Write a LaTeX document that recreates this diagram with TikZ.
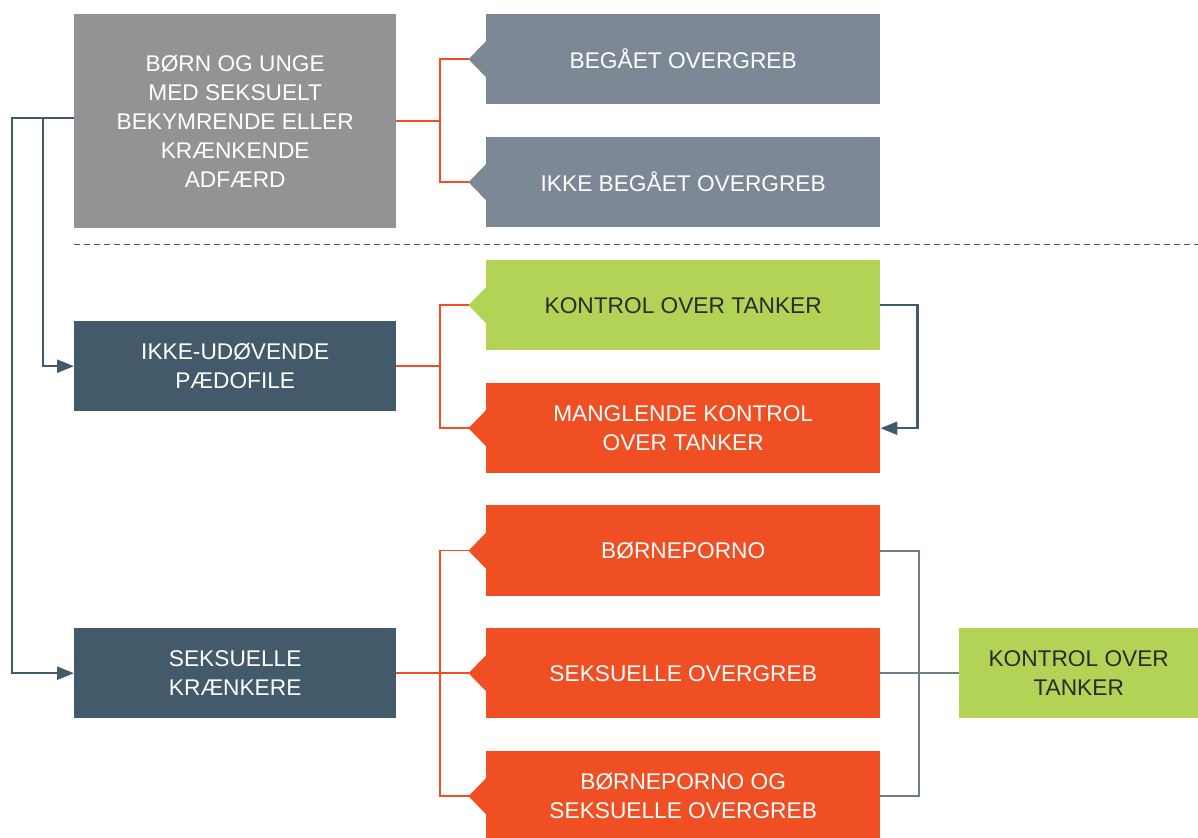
\documentclass[tikz,border=0pt]{standalone}
\usepackage{fontspec}
\setmainfont{Liberation Sans}
\usetikzlibrary{calc,arrows.meta}
\definecolor{grayA}{HTML}{939396}
\definecolor{slateA}{HTML}{7D8897}
\definecolor{darkA}{HTML}{435A6B}
\definecolor{greenA}{HTML}{B2D356}
\definecolor{orangeA}{HTML}{F04E23}
\definecolor{lineG}{HTML}{6E7F8C}
\definecolor{txtD}{HTML}{2B2B2B}
\tikzset{
  cbox/.style={rectangle, inner sep=0pt, anchor=north west, align=center,
    font=\fontsize{22.7}{29}\selectfont, text=white},
  oline/.style={draw=orangeA, line width=1.5pt},
  dline/.style={draw=darkA, line width=2.5pt},
  darrow/.style={dline, -{Triangle[length=17pt,width=13pt]}},
  gline/.style={draw=lineG, line width=2pt},
  sepline/.style={draw=darkA, line width=1.5pt, dash pattern=on 6pt off 4pt}
}
\begin{document}
\begin{tikzpicture}[x=1pt,y=-1pt]
\useasboundingbox (0,0) rectangle (1198,837);
% left column
\node[cbox, fill=grayA, minimum width=322pt, minimum height=214pt] (g) at (74,14)
  {BØRN OG UNGE\\MED SEKSUELT\\BEKYMRENDE ELLER\\KRÆNKENDE\\ADFÆRD};
\node[cbox, fill=darkA, minimum width=322pt, minimum height=90pt] (p) at (74,321)
  {IKKE-UDØVENDE\\PÆDOFILE};
\node[cbox, fill=darkA, minimum width=322pt, minimum height=90pt] (s) at (74,628)
  {SEKSUELLE\\KRÆNKERE};
% right column
\node[cbox, fill=slateA, minimum width=394pt, minimum height=90pt] (r1) at (486,14) {BEGÅET OVERGREB};
\node[cbox, fill=slateA, minimum width=394pt, minimum height=90pt] (r2) at (486,137) {IKKE BEGÅET OVERGREB};
\node[cbox, fill=greenA, text=txtD, minimum width=394pt, minimum height=90pt] (k1) at (486,260) {KONTROL OVER TANKER};
\node[cbox, fill=orangeA, minimum width=394pt, minimum height=90pt] (k2) at (486,383) {MANGLENDE KONTROL\\OVER TANKER};
\node[cbox, fill=orangeA, minimum width=394pt, minimum height=91pt] (b1) at (486,505) {BØRNEPORNO};
\node[cbox, fill=orangeA, minimum width=394pt, minimum height=90pt] (b2) at (486,628) {SEKSUELLE OVERGREB};
\node[cbox, fill=orangeA, minimum width=394pt, minimum height=90pt] (b3) at (486,751) {BØRNEPORNO OG\\SEKSUELLE OVERGREB};
\node[cbox, fill=greenA, text=txtD, minimum width=239pt, minimum height=90pt] (g2) at (959,628) {KONTROL OVER\\TANKER};
% notches
\foreach \n/\c in {r1/slateA, r2/slateA, k1/greenA, k2/orangeA, b1/orangeA, b2/orangeA, b3/orangeA} {
  \fill[\c] ($(\n.west)+(0.5,-18.5)$) -- ($(\n.west)+(-17.5,0)$) -- ($(\n.west)+(0.5,18.5)$) -- cycle;
  \coordinate (\n tip) at ($(\n.west)+(-17.5,0)$);
}
% helper coordinates
\coordinate (jx) at (440,0);
\coordinate (lx1) at (12,0);
\coordinate (lx2) at (43,0);
\coordinate (gl) at ($(g.west)+(0,-3)$);
\coordinate (sepA) at (74,244.5);
\coordinate (sepB) at (1198,244.5);
% separator
\draw[sepline] (sepA) -- (sepB);
% orange connectors
\draw[oline] (g.east) -- (g.east -| jx);
\draw[oline] (r1tip) -- (r1tip -| jx) -- (r2tip -| jx) -- (r2tip);
\draw[oline] (p.east) -- (p.east -| jx);
\draw[oline] (k1tip) -- (k1tip -| jx) -- (k2tip -| jx) -- (k2tip);
\draw[oline] (s.east) -- (b2tip);
\draw[oline] (b1tip) -- (b1tip -| jx) -- (b3tip -| jx) -- (b3tip);
% dark arrows
\draw[darrow] (gl) -- (gl -| lx1) |- (s.west);
\draw[darrow] (gl -| lx2) |- (p.west);
\draw[darrow] (k1.east) -- ++(37,0) |- (k2.east);
% gray bracket
\draw[gline] (b1.east) -- ++(39,0) |- (b3.east);
\draw[gline] (b2.east) -- (g2.west);
\end{tikzpicture}
\end{document}
